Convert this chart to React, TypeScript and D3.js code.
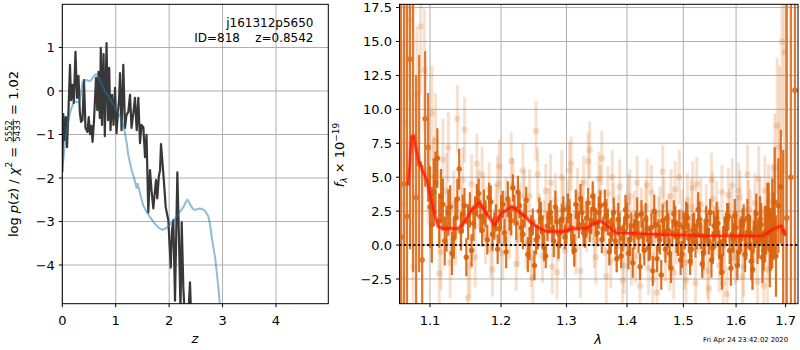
import React, { useRef, useEffect } from 'react';
import * as d3 from 'd3';

// ---- left panel: log p(z)
const zTicks = [0, 1, 2, 3, 4];
const lnpTicks = [-4, -3, -2, -1, 0, 1];

const zTemplate = [0, 0.019, 0.05, 0.082, 0.114, 0.144, 0.175, 0.206, 0.25, 0.3, 0.33, 0.345, 0.36, 0.382, 0.42, 0.457, 0.495, 0.532, 0.57, 0.612, 0.644, 0.675, 0.706, 0.75, 0.8, 0.85, 0.893, 0.95, 1.019, 1.07, 1.112, 1.145, 1.174, 1.205, 1.236, 1.27, 1.3, 1.35, 1.393, 1.41, 1.423, 1.446, 1.48, 1.517, 1.58, 1.642, 1.72, 1.798, 1.85, 1.891, 1.94, 1.985, 2.05, 2.11, 2.19, 2.266, 2.31, 2.34, 2.37, 2.404, 2.44, 2.485, 2.53, 2.579, 2.63, 2.672, 2.734, 2.77, 2.798, 2.83, 2.86, 2.89, 2.921, 2.97];
const lnpTemplate = [-1.7, -1.6, -1.2, -0.9, -0.68, -0.51, -0.38, -0.28, -0.24, -0.25, -0.22, -0.12, 0.05, 0.21, 0.24, 0.25, 0.23, 0.24, 0.3, 0.37, 0.38, 0.33, 0.25, 0.12, -0.02, -0.1, -0.2, -0.3, -0.44, -0.55, -0.67, -0.8, -0.97, -1.2, -1.47, -1.67, -1.82, -2.03, -2.24, -2.12, -2.2, -2.3, -2.47, -2.63, -2.78, -2.9, -3.03, -3.14, -3.18, -3.19, -3.16, -3.11, -3.02, -2.93, -2.8, -2.67, -2.56, -2.5, -2.55, -2.63, -2.7, -2.74, -2.71, -2.7, -2.72, -2.76, -2.88, -3.1, -3.36, -3.6, -3.82, -4.15, -4.5, -5.2];

const zGrid = [0, 0.019, 0.041, 0.066, 0.088, 0.116, 0.144, 0.163, 0.191, 0.215, 0.247, 0.275, 0.303, 0.328, 0.35, 0.378, 0.406, 0.434, 0.472, 0.495, 0.519, 0.545, 0.566, 0.594, 0.631, 0.655, 0.678, 0.702, 0.721, 0.743, 0.772, 0.796, 0.828, 0.856, 0.878, 0.903, 0.931, 0.959, 0.987, 1.015, 1.043, 1.062, 1.081, 1.109, 1.142, 1.174, 1.202, 1.236, 1.268, 1.296, 1.33, 1.361, 1.393, 1.423, 1.455, 1.483, 1.517, 1.549, 1.577, 1.61, 1.642, 1.67, 1.704, 1.736, 1.755, 1.779, 1.807, 1.83, 1.848, 1.891, 1.936, 1.985, 2.03, 2.054, 2.079, 2.11, 2.154, 2.185, 2.213, 2.236, 2.266, 2.298, 2.345, 2.391, 2.42];
const lnpGrid = [-1.87, -0.53, -1.13, -0.6, -1.29, -0.44, 0.6, -0.21, 0.14, -0.28, 0.9, -0.16, 0.35, -0.48, -0.71, -0.67, 0.25, -0.85, -0.94, -0.6, -0.99, -0.8, -1.17, -0.67, 0.3, -0.44, 0.44, -0.62, 0.99, -0.78, 0.85, -1.04, 1.1, -0.67, 0.53, -0.9, -0.09, -0.78, 0.07, -0.97, -0.48, -0.2, 0.41, -0.9, 0.6, -0.85, -0.55, -0.48, -0.09, -0.85, -0.51, -0.16, -0.9, -0.16, -1.2, -0.78, -0.83, -1.52, -1.01, -2.79, -1.82, -2.28, -2.7, -2.28, -2.05, -2.47, -1.96, -1.82, -1.22, -1.89, -2.67, -2.97, -4.06, -3.2, -2.97, -4.82, -1.87, -3.43, -5.05, -3.02, -4.52, -5.28, -5.5, -4.4, -5.5];

// ---- right panel: spectrum
const lamTicks = [1.1, 1.2, 1.3, 1.4, 1.5, 1.6, 1.7];
const fluxTicks = [-2.5, 0, 2.5, 5, 7.5, 10, 12.5, 15, 17.5];

const lamEdge = [1.0615, 1.0655, 1.0695, 1.0735, 1.0775, 1.0815, 1.0855, 1.0895, 1.0935, 1.0975, 1.7025, 1.711, 1.7195];
const fluxEdge = [0.6, 4.5, 2.1, 13.7, 8.0, 3.5, 6.0, -1.1, 9.3, 7.2, 2.0, 5.0, 11.4];
const errEdge = [25, 20, 20, 14, 10, 9, 8, 7, 5, 4, 25, 30, 40];

const lamDark = [1.1, 1.105, 1.11, 1.115, 1.12, 1.125, 1.13, 1.135, 1.14, 1.145, 1.15, 1.155, 1.16, 1.165, 1.17, 1.175, 1.18, 1.185, 1.19, 1.195, 1.2, 1.205, 1.21, 1.215, 1.22, 1.225, 1.23, 1.235, 1.24, 1.245, 1.25, 1.255, 1.26, 1.265, 1.27, 1.275, 1.28, 1.285, 1.29, 1.295, 1.3, 1.305, 1.31, 1.315, 1.32, 1.325, 1.33, 1.335, 1.34, 1.345, 1.35, 1.355, 1.36, 1.365, 1.37, 1.375, 1.38, 1.385, 1.39, 1.395, 1.4, 1.405, 1.41, 1.415, 1.42, 1.425, 1.43, 1.435, 1.44, 1.445, 1.45, 1.455, 1.46, 1.465, 1.47, 1.475, 1.48, 1.485, 1.49, 1.495, 1.5, 1.505, 1.51, 1.515, 1.52, 1.525, 1.53, 1.535, 1.54, 1.545, 1.55, 1.555, 1.56, 1.565, 1.57, 1.575, 1.58, 1.585, 1.59, 1.595, 1.6, 1.605, 1.61, 1.615, 1.62, 1.625, 1.63, 1.635, 1.64, 1.645, 1.65, 1.655, 1.66, 1.665, 1.67, 1.675, 1.68, 1.685, 1.69, 1.695];
const fluxDark = [2.8, 3.9, 6.4, 3.6, 0.3, 2.4, -0.6, 2.0, 5.6, 2.3, -0.9, 2.6, 1.6, 3.3, 2.1, 2.8, 0.4, 3.2, 1.4, -0.3, 2.5, 0.9, 3.4, 1.8, 2.7, 3.9, 1.3, 2.2, -0.7, 1.2, -1.5, 0.6, 2.0, -0.2, 1.4, 2.4, 0.3, 1.7, 0.9, 2.6, 1.1, 2.2, 0.2, 3.0, 1.5, 2.4, 0.7, 3.1, 1.8, 2.6, 0.9, 2.9, 1.2, 2.2, -0.5, 1.4, 0.3, 1.9, -0.8, 1.0, 2.1, 0.4, -1.3, 1.6, 0.6, 2.3, -0.4, 1.2, 0.1, -1.9, 1.5, 0.7, -2.2, 1.0, 2.0, -0.6, 0.9, 1.7, 0.2, -1.1, 1.3, 2.2, 0.5, -0.3, 1.4, 0.8, 1.9, -1.4, 0.6, 1.1, 2.4, -0.2, 0.9, 1.6, -0.9, 0.3, 1.2, 2.1, -1.7, 0.5, 1.3, -0.5, 0.8, 1.8, 0.0, 1.0, -1.2, 0.6, 2.3, 0.4, 1.5, -0.4, 1.1, 2.6, 0.3, 1.4, -0.8, 2.9, 4.3, 1.0];
const errDark = [3.0, 2.5, 2.2, 2.0, 1.8, 1.7, 1.6, 1.5, 1.5, 1.4, 1.4, 1.3, 1.3, 1.2, 1.2, 1.3, 1.1, 1.2, 1.0, 1.1, 1.2, 1.0, 1.3, 1.1, 1.0, 1.2, 1.1, 0.9, 1.3, 1.0, 1.1, 0.9, 1.2, 1.0, 1.1, 0.9, 1.2, 1.0, 1.1, 1.0, 1.0, 1.2, 0.9, 1.1, 1.0, 1.2, 0.9, 1.1, 1.0, 1.2, 1.0, 1.1, 0.9, 1.2, 1.0, 1.1, 1.0, 1.2, 0.9, 1.1, 1.0, 1.2, 1.1, 0.9, 1.2, 1.0, 1.1, 1.0, 1.2, 1.1, 1.0, 1.2, 1.1, 1.0, 1.3, 1.1, 1.0, 1.2, 1.0, 1.1, 1.2, 1.0, 1.1, 1.2, 1.0, 1.1, 1.3, 1.0, 1.1, 1.2, 1.0, 1.2, 1.1, 1.0, 1.3, 1.1, 1.2, 1.0, 1.3, 1.1, 1.2, 1.1, 1.3, 1.2, 1.1, 1.3, 1.4, 1.2, 1.5, 1.4, 1.6, 1.5, 1.8, 2.0, 2.2, 2.5, 3.0, 3.5, 4.2, 6.0];

const lamDarkB = [1.1025, 1.1075, 1.1125, 1.1175, 1.1225, 1.1275, 1.1325, 1.1375, 1.1425, 1.1475, 1.1525, 1.1575, 1.1625, 1.1675, 1.1725, 1.1775, 1.1825, 1.1875, 1.1925, 1.1975, 1.2025, 1.2075, 1.2125, 1.2175, 1.2225, 1.2275, 1.2325, 1.2375, 1.2425, 1.2475, 1.2525, 1.2575, 1.2625, 1.2675, 1.2725, 1.2775, 1.2825, 1.2875, 1.2925, 1.2975, 1.3025, 1.3075, 1.3125, 1.3175, 1.3225, 1.3275, 1.3325, 1.3375, 1.3425, 1.3475, 1.3525, 1.3575, 1.3625, 1.3675, 1.3725, 1.3775, 1.3825, 1.3875, 1.3925, 1.3975, 1.4025, 1.4075, 1.4125, 1.4175, 1.4225, 1.4275, 1.4325, 1.4375, 1.4425, 1.4475, 1.4525, 1.4575, 1.4625, 1.4675, 1.4725, 1.4775, 1.4825, 1.4875, 1.4925, 1.4975, 1.5025, 1.5075, 1.5125, 1.5175, 1.5225, 1.5275, 1.5325, 1.5375, 1.5425, 1.5475, 1.5525, 1.5575, 1.5625, 1.5675, 1.5725, 1.5775, 1.5825, 1.5875, 1.5925, 1.5975, 1.6025, 1.6075, 1.6125, 1.6175, 1.6225, 1.6275, 1.6325, 1.6375, 1.6425, 1.6475, 1.6525, 1.6575, 1.6625, 1.6675, 1.6725, 1.6775];
const fluxDarkB = [1.5, 4.6, 1.8, 3.0, 1.2, 2.8, 0.5, 3.4, 1.0, 2.9, 1.7, -0.4, 2.4, 3.8, 1.1, 2.3, 3.5, 0.8, 2.0, 1.2, 3.0, -0.5, 2.2, 4.2, 1.6, 2.9, 0.8, 3.3, 0.1, 1.7, 0.4, 2.5, 1.0, -0.8, 2.0, 1.2, 2.8, 0.0, 1.9, 0.6, 2.7, 1.3, -0.4, 2.1, 3.4, 0.9, 2.0, 1.1, 3.6, 1.6, 2.4, 0.4, 3.0, 1.7, 0.8, 2.4, -1.0, 1.2, 0.5, 2.6, -0.6, 1.4, 0.8, 2.2, -1.6, 0.7, 1.9, -0.2, 1.3, 2.5, -1.0, 0.4, 1.8, -0.3, 1.1, -1.7, 2.3, 0.6, 1.5, -0.7, 0.9, 2.0, -1.2, 1.1, 0.2, 2.6, 0.7, -0.6, 1.8, 0.3, -1.1, 1.4, 2.0, 0.1, -2.0, 1.0, 1.9, -0.4, 0.8, 2.2, -1.5, 0.6, 1.5, -0.7, 2.0, 0.9, -1.8, 1.2, 0.2, 1.9, -0.9, 0.8, 2.2, -0.3, 1.6, 3.2];
const errDarkB = [2.8, 2.3, 2.0, 1.9, 1.7, 1.6, 1.5, 1.5, 1.4, 1.3, 1.3, 1.2, 1.2, 1.1, 1.2, 1.0, 1.1, 1.2, 1.0, 1.1, 1.0, 1.2, 1.1, 1.0, 1.2, 0.9, 1.1, 1.0, 1.2, 1.0, 1.1, 1.0, 1.2, 0.9, 1.1, 1.0, 1.2, 1.0, 1.1, 0.9, 1.1, 1.0, 1.2, 1.0, 1.1, 1.0, 1.2, 0.9, 1.1, 1.0, 1.2, 1.0, 1.1, 1.0, 1.2, 1.1, 1.0, 1.2, 1.0, 1.1, 1.2, 1.0, 1.1, 1.3, 1.0, 1.1, 1.2, 1.0, 1.1, 1.2, 1.0, 1.1, 1.2, 1.0, 1.3, 1.1, 1.0, 1.2, 1.1, 1.0, 1.2, 1.1, 1.0, 1.2, 1.1, 1.3, 1.0, 1.2, 1.1, 1.0, 1.3, 1.1, 1.2, 1.0, 1.3, 1.1, 1.2, 1.0, 1.3, 1.2, 1.1, 1.3, 1.2, 1.3, 1.4, 1.3, 1.5, 1.4, 1.6, 1.7, 1.9, 2.1, 2.4, 2.8, 3.3, 4.0];

const lamLight = [1.0625, 1.0675, 1.0725, 1.0775, 1.0825, 1.0875, 1.0925, 1.0975, 1.1025, 1.1075, 1.1125, 1.1175, 1.1225, 1.1275, 1.1325, 1.1375, 1.1425, 1.1475, 1.1525, 1.1575, 1.1625, 1.1675, 1.1725, 1.1775, 1.1825, 1.1875, 1.1925, 1.1975, 1.2025, 1.2075, 1.2125, 1.2175, 1.2225, 1.2275, 1.2325, 1.2375, 1.2425, 1.2475, 1.2525, 1.2575, 1.2625, 1.2675, 1.2725, 1.2775, 1.2825, 1.2875, 1.2925, 1.2975, 1.3025, 1.3075, 1.3125, 1.3175, 1.3225, 1.3275, 1.3325, 1.3375, 1.3425, 1.3475, 1.3525, 1.3575, 1.3625, 1.3675, 1.3725, 1.3775, 1.3825, 1.3875, 1.3925, 1.3975, 1.4025, 1.4075, 1.4125, 1.4175, 1.4225, 1.4275, 1.4325, 1.4375, 1.4425, 1.4475, 1.4525, 1.4575, 1.4625, 1.4675, 1.4725, 1.4775, 1.4825, 1.4875, 1.4925, 1.4975, 1.5025, 1.5075, 1.5125, 1.5175, 1.5225, 1.5275, 1.5325, 1.5375, 1.5425, 1.5475, 1.5525, 1.5575, 1.5625, 1.5675, 1.5725, 1.5775, 1.5825, 1.5875, 1.5925, 1.5975, 1.6025, 1.6075, 1.6125, 1.6175, 1.6225, 1.6275, 1.6325, 1.6375, 1.6425, 1.6475, 1.6525, 1.6575, 1.6625, 1.6675, 1.6725, 1.6775, 1.6825, 1.6875, 1.6925, 1.6975];
const fluxLight = [3.0, 9.0, 16.6, -1.6, 11.1, 16.1, 12.9, 5.5, 9.7, 7.7, -2.1, 6.3, 4.0, -1.3, 3.0, 9.3, 2.0, 8.5, -3.9, 4.5, -0.9, 3.4, 5.2, 0.6, 4.1, -1.8, 2.5, 5.8, -0.6, 3.0, 1.0, 4.4, -1.4, 2.6, 5.5, 0.2, 3.6, -2.4, 8.4, 1.8, -0.8, 4.0, 2.2, -1.6, 3.3, 0.8, 5.0, -0.4, 2.9, 6.0, 0.5, 3.7, -1.9, 4.6, 1.5, 7.0, 2.4, -0.9, 4.9, 6.4, 1.2, 3.8, -1.2, 2.6, 0.0, 4.3, -2.6, 1.6, 3.2, -1.0, 2.0, 4.6, -3.0, 0.9, 2.8, -1.7, 3.9, 0.4, -3.5, 2.3, 5.4, -0.7, 1.8, 3.6, -2.0, 0.6, 5.0, 2.1, -1.3, 3.3, 0.2, 4.2, -2.8, 1.4, 3.0, -0.5, 2.5, -3.2, 4.8, 0.9, 2.7, -1.5, 3.9, 0.0, -3.6, 2.2, 4.4, -0.9, 1.7, 3.5, -2.3, 0.8, 5.2, 1.9, -1.1, 3.1, -2.7, 2.4, 0.3, 4.0, -1.8, 1.0, 2.5, 5.7, 8.8, 7.2, 15.0, 14.2];
const errLight = [12, 9, 6, 6, 5, 5, 4.5, 4, 3.5, 3.5, 3, 3, 2.8, 2.6, 2.5, 2.5, 2.4, 2.4, 2.2, 2.2, 2.2, 2.2, 2.0, 2.0, 2.0, 2.0, 2.0, 2.0, 2.0, 2.0, 2.0, 2.0, 2.0, 2.0, 2.0, 2.0, 2.0, 2.0, 2.2, 2.0, 2.0, 2.0, 2.0, 2.0, 2.0, 2.0, 2.0, 2.0, 2.0, 2.0, 2.0, 2.0, 2.0, 2.0, 2.0, 2.1, 2.0, 2.0, 2.0, 2.0, 2.0, 2.0, 2.0, 2.0, 2.0, 2.0, 2.0, 2.0, 2.0, 2.0, 2.0, 2.0, 2.0, 2.0, 2.0, 2.0, 2.0, 2.0, 2.0, 2.0, 2.0, 2.0, 2.0, 2.0, 2.0, 2.0, 2.0, 2.0, 2.0, 2.0, 2.0, 2.0, 2.0, 2.0, 2.0, 2.0, 2.0, 2.0, 2.0, 2.0, 2.0, 2.0, 2.0, 2.0, 2.0, 2.0, 2.0, 2.0, 2.0, 2.0, 2.0, 2.0, 2.2, 2.2, 2.2, 2.2, 2.4, 2.4, 2.5, 2.6, 2.8, 3.0, 3.5, 4, 5, 6, 7, 9];

const lamLightB = [1.105, 1.115, 1.125, 1.135, 1.145, 1.155, 1.165, 1.175, 1.185, 1.195, 1.205, 1.215, 1.225, 1.235, 1.245, 1.255, 1.265, 1.275, 1.285, 1.295, 1.305, 1.315, 1.325, 1.335, 1.345, 1.355, 1.365, 1.375, 1.385, 1.395, 1.405, 1.415, 1.425, 1.435, 1.445, 1.455, 1.465, 1.475, 1.485, 1.495, 1.505, 1.515, 1.525, 1.535, 1.545, 1.555, 1.565, 1.575, 1.585, 1.595, 1.605, 1.615, 1.625, 1.635, 1.645, 1.655, 1.665];
const fluxLightB = [5.0, -0.5, 7.2, 1.0, 4.8, -1.5, 6.0, 2.9, -0.3, 4.5, 2.0, 6.2, 0.4, 3.5, -1.0, 5.2, 1.3, 4.6, -2.0, 3.0, 5.5, -0.2, 2.8, 6.2, 0.3, 3.9, -2.3, 5.0, 1.7, -1.5, 3.6, -0.8, 2.1, 4.4, -2.5, 1.5, 3.0, -1.4, 4.1, 0.7, -2.6, 2.8, 4.5, 0.0, -1.9, 3.4, 1.2, -2.8, 3.7, 0.5, 4.0, -1.6, 2.6, 0.2, 4.9, -3.0, 3.2];
const errLightB = [3.0, 2.8, 2.6, 2.5, 2.4, 2.3, 2.2, 2.2, 2.1, 2.1, 2.0, 2.1, 2.0, 2.0, 2.1, 2.0, 2.0, 2.1, 2.0, 2.0, 2.1, 2.0, 2.0, 2.1, 2.0, 2.0, 2.1, 2.0, 2.0, 2.1, 2.0, 2.0, 2.1, 2.0, 2.0, 2.1, 2.0, 2.0, 2.1, 2.0, 2.0, 2.1, 2.0, 2.0, 2.1, 2.0, 2.0, 2.1, 2.0, 2.0, 2.1, 2.2, 2.2, 2.3, 2.4, 2.6, 2.8];

const lamModel = [1.071, 1.0755, 1.078, 1.0844, 1.09, 1.0958, 1.1046, 1.111, 1.118, 1.139, 1.146, 1.158, 1.168, 1.174, 1.183, 1.191, 1.201, 1.216, 1.223, 1.236, 1.246, 1.256, 1.269, 1.295, 1.311, 1.332, 1.343, 1.357, 1.368, 1.382, 1.405, 1.476, 1.55, 1.654, 1.674, 1.691, 1.7];
const fluxModel = [4.4, 7.9, 8.0, 6.3, 5.5, 4.8, 2.6, 1.37, 1.22, 1.22, 1.6, 2.6, 3.13, 2.72, 2.0, 1.49, 2.35, 2.84, 2.6, 2.1, 1.6, 1.3, 1.0, 1.0, 1.22, 1.22, 1.57, 1.74, 1.37, 0.88, 0.88, 0.74, 0.68, 0.68, 1.18, 1.42, 0.68];

const FONT = 'DejaVu Sans, sans-serif';
const GRID = '#b0b0b0';
const ORANGE = '#d9620c';

const App = () => {
  const ref = useRef<SVGSVGElement>(null);
  useEffect(() => {
    const svg = d3.select(ref.current);
    svg.selectAll('*').remove();
    svg.style('font-family', FONT);

    const defs = svg.append('defs');

    const frame = (id, x, y, xTicks, yTicks, fx, fy) => {
      const [x0, x1] = x.range();
      const [yb, yt] = y.range();
      defs.append('clipPath').attr('id', id).append('rect')
        .attr('x', x0).attr('y', yt).attr('width', x1 - x0).attr('height', yb - yt);
      const grid = svg.append('g');
      grid.selectAll('line.v').data(xTicks).join('line').attr('class', 'v')
        .attr('x1', d => x(d)).attr('x2', d => x(d)).attr('y1', yt).attr('y2', yb)
        .attr('stroke', GRID).attr('stroke-width', 1);
      grid.selectAll('line.h').data(yTicks).join('line').attr('class', 'h')
        .attr('x1', x0).attr('x2', x1).attr('y1', d => y(d)).attr('y2', d => y(d))
        .attr('stroke', GRID).attr('stroke-width', 1);
      const data = svg.append('g').attr('clip-path', `url(#${id})`);
      const top = () => {
        const g = svg.append('g');
        g.append('rect').attr('x', x0).attr('y', yt).attr('width', x1 - x0).attr('height', yb - yt)
          .attr('fill', 'none').attr('stroke', 'black').attr('stroke-width', 1);
        g.selectAll('line.xt').data(xTicks).join('line').attr('class', 'xt')
          .attr('x1', d => x(d)).attr('x2', d => x(d)).attr('y1', yb).attr('y2', yb + 3.5).attr('stroke', 'black');
        g.selectAll('line.yt').data(yTicks).join('line').attr('class', 'yt')
          .attr('x1', x0 - 3.5).attr('x2', x0).attr('y1', d => y(d)).attr('y2', d => y(d)).attr('stroke', 'black');
        g.selectAll('text.xl').data(xTicks).join('text').attr('class', 'xl')
          .attr('x', d => x(d)).attr('y', yb + 21.5).attr('text-anchor', 'middle').attr('font-size', 13).text(fx);
        g.selectAll('text.yl').data(yTicks).join('text').attr('class', 'yl')
          .attr('x', x0 - 7.5).attr('y', d => y(d) + 4.7).attr('text-anchor', 'end').attr('font-size', 13).text(fy);
      };
      return { data, top };
    };

    const pathOf = (xs, ys, sx, sy) => d3.line<number>().x(i => sx(xs[i])).y(i => sy(ys[i]))(d3.range(xs.length));

    // ---------- left panel
    const xL = d3.scaleLinear().domain([0, 4.98]).range([62.3, 328.3]);
    const yL = d3.scaleLinear().domain([-4.89, 1.993]).range([303.7, 4.3]);
    const left = frame('clipL', xL, yL, zTicks, lnpTicks, d3.format('d'), d3.format('d'));

    left.data.append('path').attr('d', pathOf(zGrid, lnpGrid, xL, yL))
      .attr('fill', 'none').attr('stroke', '#383838').attr('stroke-width', 2.2).attr('stroke-linejoin', 'round');
    left.data.append('path').attr('d', pathOf(zTemplate, lnpTemplate, xL, yL))
      .attr('fill', 'none').attr('stroke', '#1f77b4').attr('stroke-opacity', 0.5).attr('stroke-width', 2);
    left.top();

    svg.append('text').attr('x', 313.5).attr('y', 26.5).attr('text-anchor', 'end').attr('font-size', 12)
      .text('j161312p5650');
    svg.append('text').attr('x', 313.5).attr('y', 41.5).attr('text-anchor', 'end').attr('font-size', 12)
      .style('white-space', 'pre').text('ID=818    z=0.8542');

    svg.append('text').attr('x', 195).attr('y', 343).attr('text-anchor', 'middle').attr('font-size', 13)
      .attr('font-style', 'italic').text('z');

    // rotated math label builder
    const mathLabel = (tx, ty, pieces) => {
      const outer = svg.append('g').attr('transform', `translate(${tx},${ty}) rotate(-90)`);
      const inner = outer.append('g');
      let cx = 0;
      pieces.forEach(p => {
        if (p.frac) {
          const a = inner.append('text').attr('x', cx + 1).attr('y', -5.5).attr('font-size', 8.5).text(p.frac[0]);
          const b = inner.append('text').attr('x', cx + 1).attr('y', 2.8).attr('font-size', 8.5).text(p.frac[1]);
          const w = Math.max((a.node() as SVGTextElement).getComputedTextLength(), (b.node() as SVGTextElement).getComputedTextLength());
          inner.append('line').attr('x1', cx).attr('x2', cx + w + 2).attr('y1', -4.3).attr('y2', -4.3)
            .attr('stroke', 'black').attr('stroke-width', 0.7);
          cx += w + 2;
          return;
        }
        const t = inner.append('text').attr('x', cx).attr('y', p.dy || 0).attr('font-size', p.size || 13)
          .attr('font-style', p.it ? 'italic' : 'normal').style('white-space', 'pre').text(p.t);
        cx += (t.node() as SVGTextElement).getComputedTextLength();
      });
      inner.attr('transform', `translate(${-cx / 2},0)`);
    };

    mathLabel(17.5, 154, [
      { t: 'log ' }, { t: 'p', it: true }, { t: '(' }, { t: 'z', it: true }, { t: ') / ' },
      { t: 'χ', it: true }, { t: '2', size: 9, dy: -5.5 }, { t: ' = ' },
      { frac: ['5552', '5433'] }, { t: ' = 1.02' }
    ]);

    // ---------- right panel
    const xR = d3.scaleLog().domain([1.0597, 1.726]).range([399.5, 798]);
    const yR = d3.scaleLinear().domain([-4.32, 17.74]).range([303.7, 4.3]);
    const right = frame('clipR', xR, yR, lamTicks, fluxTicks, d3.format('.1f'), d3.format('.1f'));

    const errPoints = (g, lam, flux, err, color, opacity, bw, r) => {
      const idx = d3.range(lam.length);
      g.selectAll(null).data(idx).join('line')
        .attr('x1', i => xR(lam[i])).attr('x2', i => xR(lam[i]))
        .attr('y1', i => yR(flux[i] - err[i])).attr('y2', i => yR(flux[i] + err[i]))
        .attr('stroke', color).attr('stroke-opacity', opacity).attr('stroke-width', bw);
      g.selectAll(null).data(idx).join('circle')
        .attr('cx', i => xR(lam[i])).attr('cy', i => yR(flux[i])).attr('r', r)
        .attr('fill', color).attr('fill-opacity', opacity);
    };

    errPoints(right.data.append('g'), lamLight, fluxLight, errLight, ORANGE, 0.2, 3, 3.2);
    errPoints(right.data.append('g'), lamLightB, fluxLightB, errLightB, ORANGE, 0.2, 3, 3.2);
    errPoints(right.data.append('g'), lamEdge, fluxEdge, errEdge, '#dd7226', 0.95, 2.2, 2.8);
    errPoints(right.data.append('g'), lamDark, fluxDark, errDark, ORANGE, 0.9, 2.2, 2.7);
    errPoints(right.data.append('g'), lamDarkB, fluxDarkB, errDarkB, ORANGE, 0.9, 2.2, 2.7);

    const modelPath = pathOf(lamModel, fluxModel, xR, yR);
    right.data.append('path').attr('d', modelPath).attr('fill', 'none').attr('stroke', '#ff2a1a')
      .attr('stroke-opacity', 0.3).attr('stroke-width', 5).attr('stroke-linejoin', 'round');
    right.data.append('path').attr('d', modelPath).attr('fill', 'none').attr('stroke', '#ff1500')
      .attr('stroke-opacity', 0.75).attr('stroke-width', 2.4).attr('stroke-linejoin', 'round');

    right.data.append('line').attr('x1', 399.5).attr('x2', 798).attr('y1', yR(0)).attr('y2', yR(0))
      .attr('stroke', 'black').attr('stroke-width', 2).attr('stroke-dasharray', '2,2.6');
    right.top();

    svg.append('text').attr('x', 598).attr('y', 344).attr('text-anchor', 'middle').attr('font-size', 13)
      .attr('font-style', 'italic').text('λ');

    mathLabel(344, 155, [
      { t: 'f', it: true }, { t: 'λ', it: true, size: 9, dy: 3 }, { t: ' × 10' }, { t: '−19', size: 9, dy: -5.5 }
    ]);

    svg.append('text').attr('x', 788).attr('y', 341.5).attr('text-anchor', 'end').attr('font-size', 6.8)
      .text('Fri Apr 24 23:42:02 2020');
  }, []);

  return <svg ref={ref} width={800} height={350} style={{ position: 'absolute', left: 0, top: 0, background: 'white' }} />;
};

export default App;
